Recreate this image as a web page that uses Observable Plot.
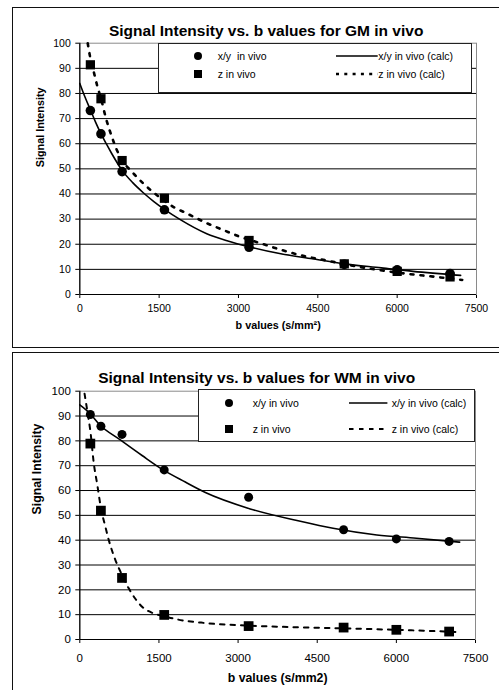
<!DOCTYPE html>
<html>
<head>
<meta charset="utf-8">
<script src="https://cdn.jsdelivr.net/npm/d3@7"></script>
<script src="https://cdn.jsdelivr.net/npm/@observablehq/plot@0.6"></script>
<style>
  html, body { margin: 0; padding: 0; background: #fff; }
  body { width: 499px; height: 690px; position: relative; overflow: hidden; font-family: "Liberation Sans", Arial, sans-serif; }
  .panel { position: absolute; border: 1.5px solid #111; box-sizing: border-box; background: #fff; }
  .chart { position: absolute; left: 0; }
  .legend { position: absolute; background: #fff; border: 1px solid #222; box-sizing: border-box; color: #000; }
  .legend .lbl { position: absolute; white-space: pre; line-height: 1; transform: translateY(-50%); }
  .legend svg { position: absolute; overflow: visible; }
</style>
</head>
<body>
<div class="panel" style="left:12px;top:6.5px;width:520px;height:341px;"></div>
<div class="panel" style="left:12px;top:351.5px;width:520px;height:400px;"></div>
<div id="c1" class="chart" style="top:0px;"></div>
<div id="c2" class="chart" style="top:345px;"></div>
<script>
// ---------- data ----------
const bValues = [200, 400, 800, 1600, 3200, 5000, 6000, 7000];

// GM in vivo (measured)
const gmXY = [73.2, 63.9, 48.9, 33.7, 18.8, 12.0, 9.8, 8.3];
const gmZ  = [91.4, 77.9, 53.3, 38.3, 21.5, 12.2, 9.2, 7.0];
// GM fitted curves
const gmXYCalcB = [0, 100, 200, 300, 400, 500, 600, 800, 1000, 1200, 1400, 1600, 1900, 2400, 2800, 3200, 3800, 4400, 5000, 5700, 6300, 7200];
const gmXYCalcV = [84, 78.5, 73.5, 68.5, 64, 60, 56.2, 49.4, 44.5, 40.5, 37, 33.9, 29.8, 24.2, 21.3, 19, 16.2, 14.2, 12.2, 10.6, 9.2, 7.6];
const gmZCalcB  = [150, 200, 265, 330, 400, 490, 610, 700, 800, 1000, 1200, 1400, 1600, 1780, 2000, 2400, 2800, 3000, 3400, 3800, 4200, 4600, 5000, 5600, 6200, 6600, 7230];
const gmZCalcV  = [100, 94, 88.5, 83, 78, 70.5, 62.5, 57.5, 53.5, 48.5, 44.2, 40.5, 37.3, 34.7, 32.5, 28.4, 24.9, 23.2, 20.5, 17.8, 15.5, 13.8, 12.1, 9.9, 8.2, 7.3, 5.8];

// WM in vivo (measured)
const wmXY = [90.6, 85.9, 82.6, 68.3, 57.3, 44.2, 40.5, 39.5];
const wmZ  = [78.9, 51.9, 24.8, 9.9, 5.4, 4.8, 3.9, 3.2];
// WM fitted curves
const wmXYCalcB = [0, 180, 390, 740, 1180, 1580, 2000, 2380, 3230, 4180, 4800, 5630, 6380, 7200];
const wmXYCalcV = [94.5, 91.3, 86.2, 80.8, 74.1, 68.3, 63.4, 59.2, 52.6, 47.6, 44.8, 42.1, 40.8, 39.2];
const wmZCalcB  = [90, 150, 200, 265, 330, 400, 490, 550, 675, 800, 930, 1050, 1180, 1400, 1600, 1800, 2300, 3200, 4000, 4800, 6000, 7200];
const wmZCalcV  = [99, 91, 84, 71, 62.5, 53, 45, 40, 32, 26, 20.5, 16.5, 13.2, 10.5, 9.4, 8.3, 6.8, 5.6, 5.0, 4.6, 3.9, 3.0];

// ticks & labels
const bTicks = [0, 1500, 3000, 4500, 6000, 7500];
const siTicks = [0, 10, 20, 30, 40, 50, 60, 70, 80, 90, 100];
const titleGM = "Signal Intensity vs. b values for GM in vivo";
const titleWM = "Signal Intensity vs. b values for WM in vivo";
const yLabel = "Signal Intensity";
const xLabelGM = "b values (s/mm\u00b2)";
const xLabelWM = "b values (s/mm2)";
const seriesNames = ["x/y  in vivo", "z in vivo", "x/y in vivo (calc)", "z in vivo (calc)"];
const seriesNamesWM = ["x/y in vivo", "z in vivo", "x/y in vivo (calc)", "z in vivo (calc)"];

const FONT = "'Liberation Sans', Arial, sans-serif";
const pts = (vals) => bValues.map((b, i) => ({b, v: vals[i]}));
const curve = (bs, vs) => bs.map((b, i) => ({b, v: vs[i]}));

function chart(o) {
  return Plot.plot({
    width: 499,
    height: 345,
    marginLeft: 79.3,
    marginRight: o.mr,
    marginTop: o.mt,
    marginBottom: 51,
    style: {fontFamily: FONT, fontSize: o.tickFont + "px", color: "#000", background: "transparent", overflow: "visible"},
    x: {domain: [0, 7500], ticks: bTicks, tickSize: 4, tickPadding: o.xPad, tickFormat: d3.format("d"), label: null},
    y: {domain: [0, 100], ticks: siTicks, tickSize: 4, tickPadding: 5, label: null},
    marks: [
      Plot.frame({stroke: "#8a8a8a", strokeWidth: 1}),
      Plot.ruleY(siTicks.filter(t => t > 0 && t < 100), {stroke: "#000", strokeWidth: 1}),
      Plot.ruleX([0], {stroke: "#000", strokeWidth: 1.2}),
      Plot.ruleY([0], {stroke: "#000", strokeWidth: 1.2}),
      Plot.dot(pts(o.xy), {x: "b", y: "v", r: o.rc, fill: "#000", stroke: "none"}),
      Plot.dot(pts(o.z), {x: "b", y: "v", r: o.rs, symbol: "square", fill: "#000", stroke: "none"}),
      Plot.line(curve(o.xyB, o.xyV), {x: "b", y: "v", stroke: "#000", strokeWidth: 1.6, curve: "monotone-x"}),
      Plot.line(curve(o.zB, o.zV), {x: "b", y: "v", stroke: "#000", strokeWidth: o.dashW, strokeDasharray: o.dash, curve: "monotone-x"}),
      Plot.text([o.title], {frameAnchor: "top", dx: o.titleDx, dy: o.titleDy, fontSize: 15.5, fontWeight: "bold", fill: "#000"}),
      Plot.text([xLabelOf(o)], {frameAnchor: "bottom", dy: o.xLabDy, fontSize: o.labFont, fontWeight: "bold", fill: "#000"}),
      Plot.text([yLabel], {frameAnchor: "left", dx: o.yLabDx, dy: o.yLabDy, rotate: -90, fontSize: o.labFont, fontWeight: "bold", fill: "#000"})
    ]
  });
}
function xLabelOf(o) { return o.xLabel; }

function legend(host, o) {
  const L = document.createElement("div");
  L.className = "legend";
  Object.assign(L.style, {left: o.left + "px", top: o.top + "px", width: o.w + "px", height: o.h + "px", fontSize: o.font + "px", fontFamily: FONT});
  const rows = [o.r1, o.r2];
  const names = o.names;
  // markers
  const mk = (row, sq) => {
    const s = document.createElementNS("http://www.w3.org/2000/svg", "svg");
    s.setAttribute("width", 10); s.setAttribute("height", 10);
    s.style.left = (o.mx - 5) + "px"; s.style.top = (row - 5) + "px";
    s.innerHTML = sq ? '<rect x="1" y="1" width="8" height="8" fill="#000"/>' : '<circle cx="5" cy="5" r="4" fill="#000"/>';
    L.appendChild(s);
  };
  const ln = (row, dash, w) => {
    const s = document.createElementNS("http://www.w3.org/2000/svg", "svg");
    s.setAttribute("width", o.lx2 - o.lx1); s.setAttribute("height", 6);
    s.style.left = o.lx1 + "px"; s.style.top = (row - 3) + "px";
    s.innerHTML = `<line x1="0" y1="3" x2="${o.lx2 - o.lx1}" y2="3" stroke="#000" stroke-width="${w}" ${dash ? `stroke-dasharray="${dash}"` : ""}/>`;
    L.appendChild(s);
  };
  const tx = (row, x, t) => {
    const d = document.createElement("div");
    d.className = "lbl"; d.textContent = t;
    d.style.left = x + "px"; d.style.top = row + "px";
    L.appendChild(d);
  };
  mk(rows[0], false); tx(rows[0], o.tx1, names[0]);
  mk(rows[1], true);  tx(rows[1], o.tx1, names[1]);
  ln(rows[0], null, 1.6); tx(rows[0], o.tx2, names[2]);
  ln(rows[1], o.dash, o.dashW); tx(rows[1], o.tx2, names[3]);
  host.appendChild(L);
}

const c1 = document.getElementById("c1");
c1.appendChild(chart({
  mr: 23, mt: 42.7, tickFont: 10.5, xPad: 6.5, labFont: 10.8,
  xy: gmXY, z: gmZ, xyB: gmXYCalcB, xyV: gmXYCalcV, zB: gmZCalcB, zV: gmZCalcV,
  rc: 4.8, rs: 5.2, dash: "3,7", dashW: 2.6,
  title: titleGM, titleDx: -12, titleDy: -18.2,
  xLabel: xLabelGM, xLabDy: 34.3, yLabDx: -39.1, yLabDy: -1.6
}));
legend(c1, {left: 158.3, top: 43, w: 313.4, h: 50.3, font: 10.5, names: seriesNames,
  r1: 12, r2: 30.3, mx: 38.4, tx1: 58.4, lx1: 176.7, lx2: 218.4, tx2: 219, dash: "3,5.3", dashW: 2.6});

const c2 = document.getElementById("c2");
c2.appendChild(chart({
  mr: 24, mt: 45.7, tickFont: 11.5, xPad: 10, labFont: 12.3,
  xy: wmXY, z: wmZ, xyB: wmXYCalcB, xyV: wmXYCalcV, zB: wmZCalcB, zV: wmZCalcV,
  rc: 4.5, rs: 5.5, dash: "4.5,6", dashW: 2,
  title: titleWM, titleDx: -21, titleDy: -19.2,
  xLabel: xLabelWM, xLabDy: 42.7, yLabDx: -43.1, yLabDy: -0.9
}));
legend(c2, {left: 198.3, top: 44.3, w: 276.7, h: 52.4, font: 10.5, names: seriesNamesWM,
  r1: 13, r2: 39, mx: 30, tx1: 53.4, lx1: 150, lx2: 188.4, tx2: 192.4, dash: "4.5,5.5", dashW: 2});
</script>
</body>
</html>
